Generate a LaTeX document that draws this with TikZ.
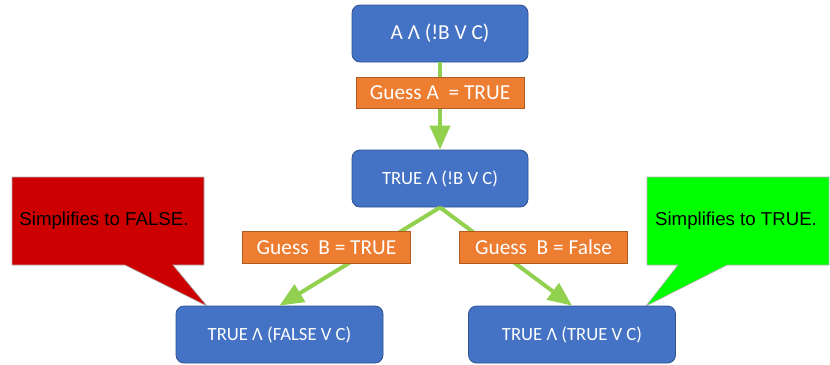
\documentclass[tikz,border=0pt]{standalone}
\usepackage{fontspec}
\setmainfont{Carlito}
\newfontfamily\arialfont{Liberation Sans}
\usetikzlibrary{arrows.meta}

\definecolor{exprblue}{RGB}{68,114,196}
\definecolor{exprline}{RGB}{47,82,143}
\definecolor{guessorange}{RGB}{237,125,49}
\definecolor{guessline}{RGB}{174,90,33}
\definecolor{flowgreen}{RGB}{146,208,80}
\definecolor{falsered}{RGB}{204,0,0}
\definecolor{truegreen}{RGB}{0,255,0}

\tikzset{every picture/.style={line width=0.75pt}}
\tikzset{
  exprbox/.style={draw=exprline, line width=0.6pt, fill=exprblue, rounded corners=6pt, text=white, minimum width=132pt, minimum height=42.75pt, inner sep=0.75pt, font=\fontsize{14}{17}\selectfont},
  guessbox/.style={draw=guessline, line width=0.6pt, fill=guessorange, text=white, minimum width=126pt, minimum height=24pt, inner sep=0.75pt, font=\fontsize{16}{19}\selectfont},
  flowarrow/.style={draw=flowgreen, line width=3pt, -{Triangle[width=15pt,length=18pt]}},
  calloutshape/.style={draw=gray!60, line width=0.5pt},
  callouttext/.style={inner sep=0.75pt, font=\arialfont\fontsize{14}{17}\selectfont}
}

\begin{document}
\begin{tikzpicture}[x=0.75pt,y=0.75pt,yscale=-1,xscale=1]
\useasboundingbox (0,0) rectangle (830,364);

%Shape: Callout [id:false]
\draw [calloutshape, fill=falsered] (12,177) -- (204,177) -- (204,265) -- (173,265) -- (207,306) -- (125,265) -- (12,265) -- cycle ;
%Shape: Callout [id:true]
\draw [calloutshape, fill=truegreen] (647,177) -- (829,177) -- (829,265) -- (727,265) -- (646,306) -- (678,265) -- (647,265) -- cycle ;

% Text Node
\draw (104,221) node [callouttext] (simpfalse) {Simplifies to FALSE.};
% Text Node
\draw (736,221) node [callouttext] (simptrue) {Simplifies to TRUE.};

%Rounded Rect [id:start]
\draw (440,33.5) node [exprbox, font=\fontsize{16}{19}\selectfont] (start) {A Λ (!B V C)};
%Rounded Rect [id:guessedA]
\draw (440,178.5) node [exprbox] (guessedA) {TRUE Λ (!B V C)};
%Rounded Rect [id:bfalse]
\draw (279.5,334.5) node [exprbox, minimum width=155.25pt] (bfalse) {TRUE Λ (FALSE V C)};
%Rounded Rect [id:btrue]
\draw (572,334.5) node [exprbox, minimum width=155.25pt] (btrue) {TRUE Λ (TRUE V C)};

%Straight Lines [id:flows]
\draw [flowarrow] (start.south) -- (guessedA.north) ;
\draw [flowarrow] (guessedA.south) -- (bfalse.north) ;
\draw [flowarrow] (guessedA.south) -- (btrue.north) ;

% Text Node
\draw (440,92.5) node [guessbox, minimum height=23.25pt] (guessA) {Guess A\ \ = TRUE};
% Text Node
\draw (326.5,247.5) node [guessbox] (guessBtrue) {Guess\ \ B = TRUE};
% Text Node
\draw (543.5,247.5) node [guessbox] (guessBfalse) {Guess\ \ B = False};

\end{tikzpicture}
\end{document}
